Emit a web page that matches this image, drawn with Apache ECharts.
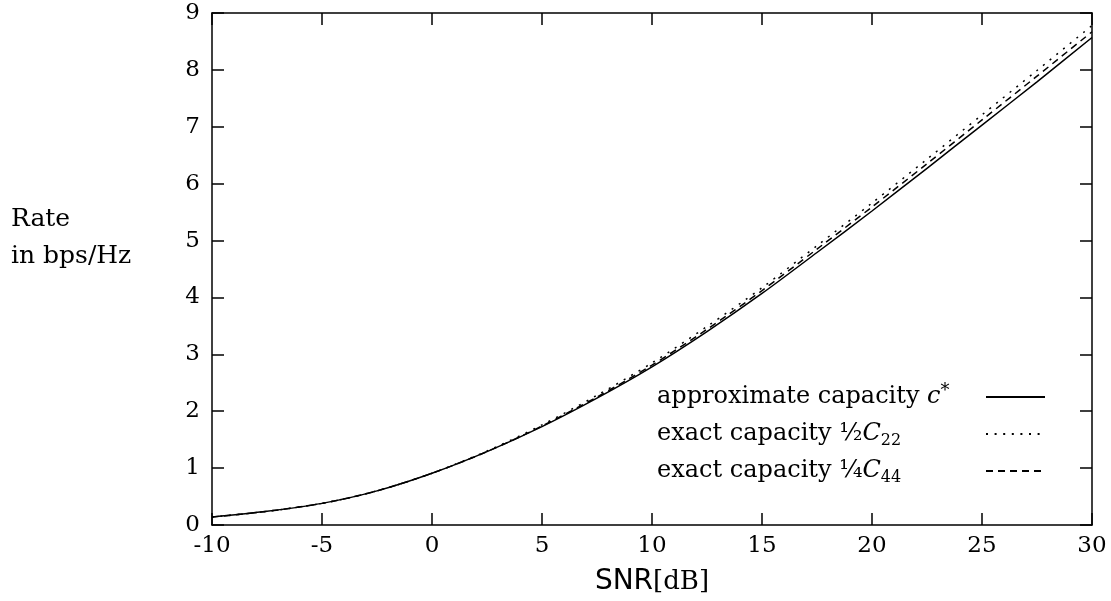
<!DOCTYPE html>
<html><head><meta charset="utf-8">
<script src="https://cdn.jsdelivr.net/npm/echarts@6/dist/echarts.min.js"></script>
<style>html,body{margin:0;padding:0;background:#fff}#c{width:1111px;height:601px}</style>
</head><body><div id="c"></div>
<script>
const snrDb = [-10, -7.5, -5, -2.5, 0, 2.5, 5, 7.5, 10, 12.5, 15, 17.5, 20, 22.5, 25, 27.5, 30];
const approxCapacity = [0.14, 0.24, 0.38, 0.60, 0.91, 1.29, 1.73, 2.23, 2.78, 3.40, 4.07, 4.79, 5.52, 6.27, 7.03, 7.79, 8.57];
const exactHalfC22 = [0.14, 0.24, 0.38, 0.60, 0.91, 1.30, 1.76, 2.28, 2.85, 3.49, 4.17, 4.91, 5.66, 6.43, 7.21, 7.99, 8.78];
const exactQuarterC44 = [0.14, 0.24, 0.38, 0.60, 0.91, 1.29, 1.74, 2.25, 2.81, 3.44, 4.12, 4.85, 5.59, 6.35, 7.12, 7.89, 8.67];
const xTicks = [-10, -5, 0, 5, 10, 15, 20, 25, 30];
const yTicks = [0, 1, 2, 3, 4, 5, 6, 7, 8, 9];
const seriesNames = ['approximate capacity c*', 'exact capacity 1/2 C22', 'exact capacity 1/4 C44'];
const legendRich = {
  'approximate capacity c*': '{t|approximate capacity }{i|c}{sup|*}',
  'exact capacity 1/2 C22': '{t|exact capacity ½}{i|C}{sub|22}',
  'exact capacity 1/4 C44': '{t|exact capacity ¼}{i|C}{sub|44}'
};
const axisLabelYLines = ['Rate', 'in bps/Hz'];

const SERIF = 'DejaVu Serif';
const toPairs = ys => snrDb.map((x, i) => [x, ys[i]]);
const axisLineStyle = { color: '#000', width: 1.5 };

const chart = echarts.init(document.getElementById('c'), null, { renderer: 'canvas' });
const baseX = {
  type: 'value', min: xTicks[0], max: xTicks[xTicks.length - 1], interval: xTicks[1] - xTicks[0],
  axisLine: { show: true, onZero: false, lineStyle: axisLineStyle },
  axisTick: { show: true, inside: true, length: 12, lineStyle: axisLineStyle },
  splitLine: { show: false }
};
const baseY = {
  type: 'value', min: yTicks[0], max: yTicks[yTicks.length - 1], interval: yTicks[1] - yTicks[0],
  axisLine: { show: true, onZero: false, lineStyle: axisLineStyle },
  axisTick: { show: true, inside: true, length: 12, lineStyle: axisLineStyle },
  splitLine: { show: false }
};
const lineTypes = ['solid', [2, 6.6], [7, 5]];
const dataSets = [approxCapacity, exactHalfC22, exactQuarterC44];

chart.setOption({
  animation: false,
  backgroundColor: '#fff',
  grid: { left: 212, right: 19, top: 13, bottom: 76, containLabel: false },
  xAxis: [
    Object.assign({}, baseX, {
      position: 'bottom',
      axisLabel: { show: true, margin: 10, color: '#000', fontFamily: SERIF, fontSize: 23 },
      name: '{s|SNR}{b|[dB]}', nameLocation: 'middle', nameGap: 57,
      nameTextStyle: {
        verticalAlign: 'middle', color: '#000',
        rich: {
          s: { fontFamily: 'DejaVu Sans', fontSize: 28, color: '#000' },
          b: { fontFamily: SERIF, fontSize: 26, color: '#000' }
        }
      }
    }),
    Object.assign({}, baseX, { position: 'top', axisLabel: { show: false } })
  ],
  yAxis: [
    Object.assign({}, baseY, {
      position: 'left',
      axisLabel: { show: true, margin: 12, color: '#000', fontFamily: SERIF, fontSize: 23 },
      name: axisLabelYLines.map(s => '{a|' + s + '}').join('\n') + '\n{g| }',
      nameLocation: 'middle', nameGap: 201, nameRotate: 0,
      nameTextStyle: {
        align: 'left', verticalAlign: 'middle', color: '#000',
        rich: {
          a: { fontFamily: SERIF, fontSize: 25, lineHeight: 37, color: '#000', align: 'left' },
          g: { fontSize: 1, lineHeight: 63 }
        }
      }
    }),
    Object.assign({}, baseY, { position: 'right', axisLabel: { show: false } })
  ],
  legend: {
    show: true, orient: 'vertical', align: 'right', left: 657, top: 382,
    padding: 0, itemGap: 7, itemWidth: 59, itemHeight: 14,
    data: seriesNames,
    itemStyle: { opacity: 0, borderWidth: 0 },
    formatter: name => legendRich[name],
    textStyle: {
      width: 324, color: '#000', fontFamily: SERIF, fontSize: 24, lineHeight: 30,
      rich: {
        t: { fontFamily: SERIF, fontSize: 24, lineHeight: 30, align: 'left', verticalAlign: 'middle', color: '#000' },
        i: { fontFamily: SERIF, fontStyle: 'italic', fontSize: 24, lineHeight: 30, align: 'left', verticalAlign: 'middle', color: '#000' },
        sup: { fontFamily: SERIF, fontSize: 18, lineHeight: 17, align: 'left', verticalAlign: 'top', color: '#000' },
        sub: { fontFamily: SERIF, fontSize: 16, lineHeight: 15, align: 'left', verticalAlign: 'bottom', color: '#000' }
      }
    }
  },
  series: seriesNames.map((name, k) => ({
    name, type: 'line', xAxisIndex: 0, yAxisIndex: 0,
    data: toPairs(dataSets[k]),
    smooth: 0.3, showSymbol: false, symbol: 'none',
    color: '#000',
    itemStyle: { opacity: 0 },
    lineStyle: { color: '#000', width: 1.5, type: lineTypes[k] },
    z: 3 - k
  }))
});
</script></body></html>
